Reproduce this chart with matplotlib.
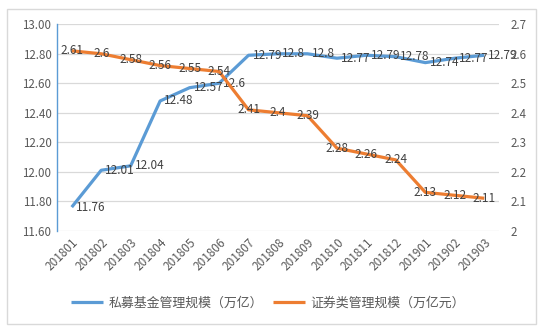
import matplotlib
matplotlib.use("Agg")
import matplotlib.pyplot as plt
from matplotlib.patches import Rectangle

plt.rcParams['font.family'] = ['Noto Sans CJK SC', 'DejaVu Sans']

months = ["201801", "201802", "201803", "201804", "201805", "201806", "201807",
          "201808", "201809", "201810", "201811", "201812", "201901", "201902", "201903"]
private_fund = [11.76, 12.01, 12.04, 12.48, 12.57, 12.6, 12.79, 12.8, 12.8, 12.77,
                12.79, 12.78, 12.74, 12.77, 12.79]
securities = [2.61, 2.6, 2.58, 2.56, 2.55, 2.54, 2.41, 2.4, 2.39, 2.28, 2.26, 2.24,
              2.13, 2.12, 2.11]
name_private = "私募基金管理规模（万亿）"
name_sec = "证券类管理规模（万亿元）"
left_ticks = [11.6, 11.8, 12.0, 12.2, 12.4, 12.6, 12.8, 13.0]
right_ticks = [2.0, 2.1, 2.2, 2.3, 2.4, 2.5, 2.6, 2.7]

BLUE = "#5B9BD5"
ORANGE = "#ED7D31"
TXT = "#595959"
LBL = "#404040"

fig = plt.figure(figsize=(5.42, 3.31), dpi=100)
fig.patches.append(Rectangle((7/542, 1-324/331), (536-7)/542, (324-9)/331,
                             transform=fig.transFigure, fill=False,
                             edgecolor="#D9D9D9", linewidth=1.0))
ax = fig.add_axes([57/542, 1-230.7/331, (499-57)/542, (230.7-24.3)/331])
ax2 = ax.twinx()

x = list(range(len(months)))
ax.plot(x, private_fund, color=BLUE, lw=2.3, solid_capstyle='butt', zorder=3, label=name_private)
ax2.plot(x, securities, color=ORANGE, lw=2.3, solid_capstyle='butt', zorder=3, label=name_sec)

ax.set_xlim(-0.5, len(months) - 0.5)
ax.set_ylim(11.6, 13.0)
ax2.set_ylim(2.0, 2.7)
ax.set_yticks(left_ticks)
ax.set_yticklabels([f"{v:.2f}" for v in left_ticks])
ax2.set_yticks(right_ticks)
ax2.set_yticklabels([f"{v:g}" for v in right_ticks])
ax.set_xticks(x)
ax.set_xticklabels(months, rotation=45, ha='right', rotation_mode='anchor')

ax.grid(axis='y', color="#D9D9D9", lw=0.9)
ax.set_axisbelow(True)
for sp in ['top', 'right', 'bottom']:
    ax.spines[sp].set_visible(False)
ax.spines['left'].set_color(BLUE)
ax.spines['left'].set_linewidth(1.0)
for sp in ax2.spines.values():
    sp.set_visible(False)
ax.tick_params(axis='y', length=0, labelsize=8.3, labelcolor=TXT, pad=4)
ax.tick_params(axis='x', length=0, labelsize=8.5, labelcolor=TXT, pad=4)
ax2.tick_params(axis='y', length=0, labelsize=8.3, labelcolor=TXT, pad=8)

for xi, v in zip(x, private_fund):
    ax.annotate(f"{v:g}", (xi, v), xytext=(3, 0), textcoords='offset points',
                ha='left', va='center', fontsize=8.5, color=LBL, zorder=5)
for xi, v in zip(x, securities):
    ax2.annotate(f"{v:g}", (xi, v), ha='center', va='center', fontsize=8.5,
                 color=LBL, zorder=5)

h1, l1 = ax.get_legend_handles_labels()
h2, l2 = ax2.get_legend_handles_labels()
fig.legend(h1 + h2, l1 + l2, loc='center', bbox_to_anchor=(268/542, 1-303/331),
           ncol=2, frameon=False, fontsize=9.3, labelcolor=TXT,
           handlelength=2.5, handletextpad=0.4, columnspacing=0.8)

fig.savefig("out.png", dpi=100)
